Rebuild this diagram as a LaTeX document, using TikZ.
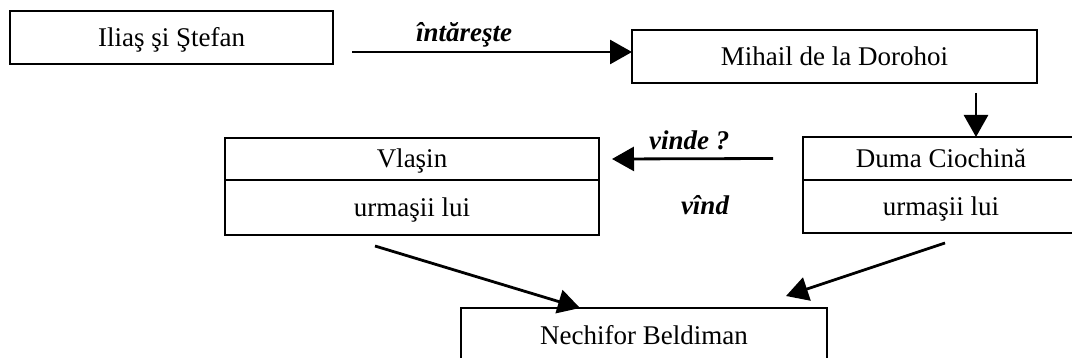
\documentclass[tikz,border=0pt]{standalone}
\usepackage{fontspec}
\setmainfont{Liberation Serif}
\usepackage{tikz}
\usetikzlibrary{arrows.meta,positioning}

\begin{document}
\begin{tikzpicture}[x=0.5pt,y=-0.5pt,font=\fontsize{13.5}{15}\selectfont,
  cutie/.style={draw,line width=1.2pt,rectangle,inner sep=0pt,outer sep=0pt,text height=9pt,text depth=0pt},
  sageata/.style={line width=1.4pt,-{Triangle[length=11pt,width=12pt]}},
  eticheta/.style={font=\fontsize{13.5}{15}\selectfont\bfseries\itshape,inner sep=1.5pt}]
\clip (0,0) rectangle (1072,358);
% casete
\node[cutie,minimum width=161.5pt,minimum height=26.5pt] (ilias) at (171.5,37.5) {Iliaş şi Ştefan};
\node[cutie,minimum width=202.5pt,minimum height=26.5pt] (mihail) at (834.5,56.5) {Mihail de la Dorohoi};
\node[cutie,minimum width=187pt,minimum height=21pt] (vlasin) at (412,159) {Vlaşin};
\node[cutie,minimum width=187pt,minimum height=27.5pt,anchor=north] (urmasiV) at (vlasin.south) {urmaşii lui};
\node[cutie,minimum width=138pt,minimum height=21.5pt] (duma) at (941,158.5) {Duma Ciochină};
\node[cutie,minimum width=138pt,minimum height=26.5pt,anchor=north] (urmasiD) at (duma.south) {urmaşii lui};
\node[cutie,minimum width=183pt,minimum height=27pt,anchor=north] (nechifor) at (644,308) {Nechifor Beldiman};
\node[eticheta] (vind) at (705,205) {vînd};
% sageti
\draw[sageata] ([xshift=9.5pt,yshift=2.25pt]ilias.east |- mihail.west) -- node[eticheta,pos=0.4,above] {întăreşte} ([yshift=2.25pt]mihail.west);
\draw[sageata] ([xshift=70.75pt,yshift=-5pt]mihail.south) -- ([xshift=70.75pt]mihail.south |- duma.north);
\draw[sageata] ([xshift=-15pt]duma.west) -- node[eticheta,pos=0.52,above=2pt] {vinde ?} ([xshift=6.5pt]vlasin.east);
\draw[sageata] ([xshift=-18.5pt,yshift=-5.5pt]urmasiV.south) -- ([xshift=-32pt]nechifor.north);
\draw[sageata] ([xshift=2pt,yshift=-5pt]urmasiD.south) -- ([xshift=71pt,yshift=6pt]nechifor.north);
\end{tikzpicture}
\end{document}
